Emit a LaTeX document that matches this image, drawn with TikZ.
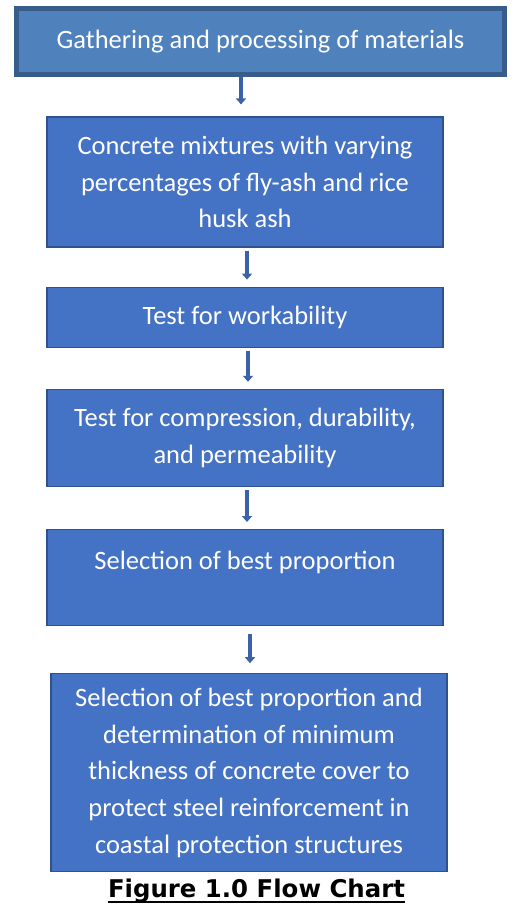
\documentclass[tikz,border=0pt]{standalone}
\usepackage{fontspec}
\setmainfont{Carlito}
\newfontfamily\capfont{DejaVu Sans}
\usetikzlibrary{positioning,arrows.meta}
\definecolor{boxblue}{HTML}{4472C4}
\definecolor{boxline}{HTML}{2F528F}
\definecolor{topblue}{HTML}{4F81BD}
\definecolor{topline}{HTML}{385D8A}
\definecolor{arrowblue}{HTML}{3A62A8}

\begin{document}
\begin{tikzpicture}[x=1pt,y=1pt,>={Triangle[width=10pt,length=6pt]},
    main node/.style={rectangle,draw=boxline,fill=boxblue,line width=1.2pt,text=white,
      minimum width=396pt,align=center,inner sep=0pt,font=\fontsize{26.5}{36.7}\selectfont},
    top node/.style={main node,fill=topblue,draw=topline,line width=5pt,
      minimum width=488pt,minimum height=66pt},
    flow/.style={->,draw=arrowblue,line width=3.5pt,shorten <=3pt,shorten >=7pt}]
    \useasboundingbox (0,0) rectangle (525,-923);
    \node[top node] (1) at (260.5,-41.5) {Gathering and processing of materials};
    \node[main node,minimum height=130pt] (2) at (245,-182)
      {Concrete mixtures with varying\\percentages of fly-ash and rice\\husk ash};
    \node[main node,minimum height=60pt] (3) [below=39pt of 2] {Test for workability};
    \node[main node,minimum height=97pt] (4) [below=41pt of 3]
      {Test for compression, durability,\\and permeability};
    \node[main node,minimum height=96pt,text depth=34pt] (5) [below=42pt of 4]
      {Selection of best proportion};
    \node[main node,minimum height=198pt] (6) [below=47pt of 5,xshift=4pt]
      {Selection of best proportion and\\determination of minimum\\thickness of concrete cover to\\protect steel reinforcement in\\coastal protection structures};
    \node[font=\capfont\bfseries\fontsize{24.4}{28}\selectfont,inner sep=0pt,text depth=5pt]
      (7) [below=6pt of 6,xshift=7.5pt] {Figure 1.0 Flow Chart};
    \draw[line width=1.8pt] (7.south west) -- (7.south east);
    % connectors
    \draw[flow,shorten >=12pt,shorten <=0pt] (1.south -| 241,0) -- (2.north -| 241,0);
    \draw[flow] ([xshift=2pt]2.south) -- ([xshift=2pt]3.north);
    \draw[flow] ([xshift=3pt]3.south) -- ([xshift=3pt]4.north);
    \draw[flow] ([xshift=2pt]4.south) -- ([xshift=2pt]5.north);
    \draw[flow,shorten <=8pt,shorten >=10pt] ([xshift=5pt]5.south) -- ([xshift=1pt]6.north);
\end{tikzpicture}
\end{document}
